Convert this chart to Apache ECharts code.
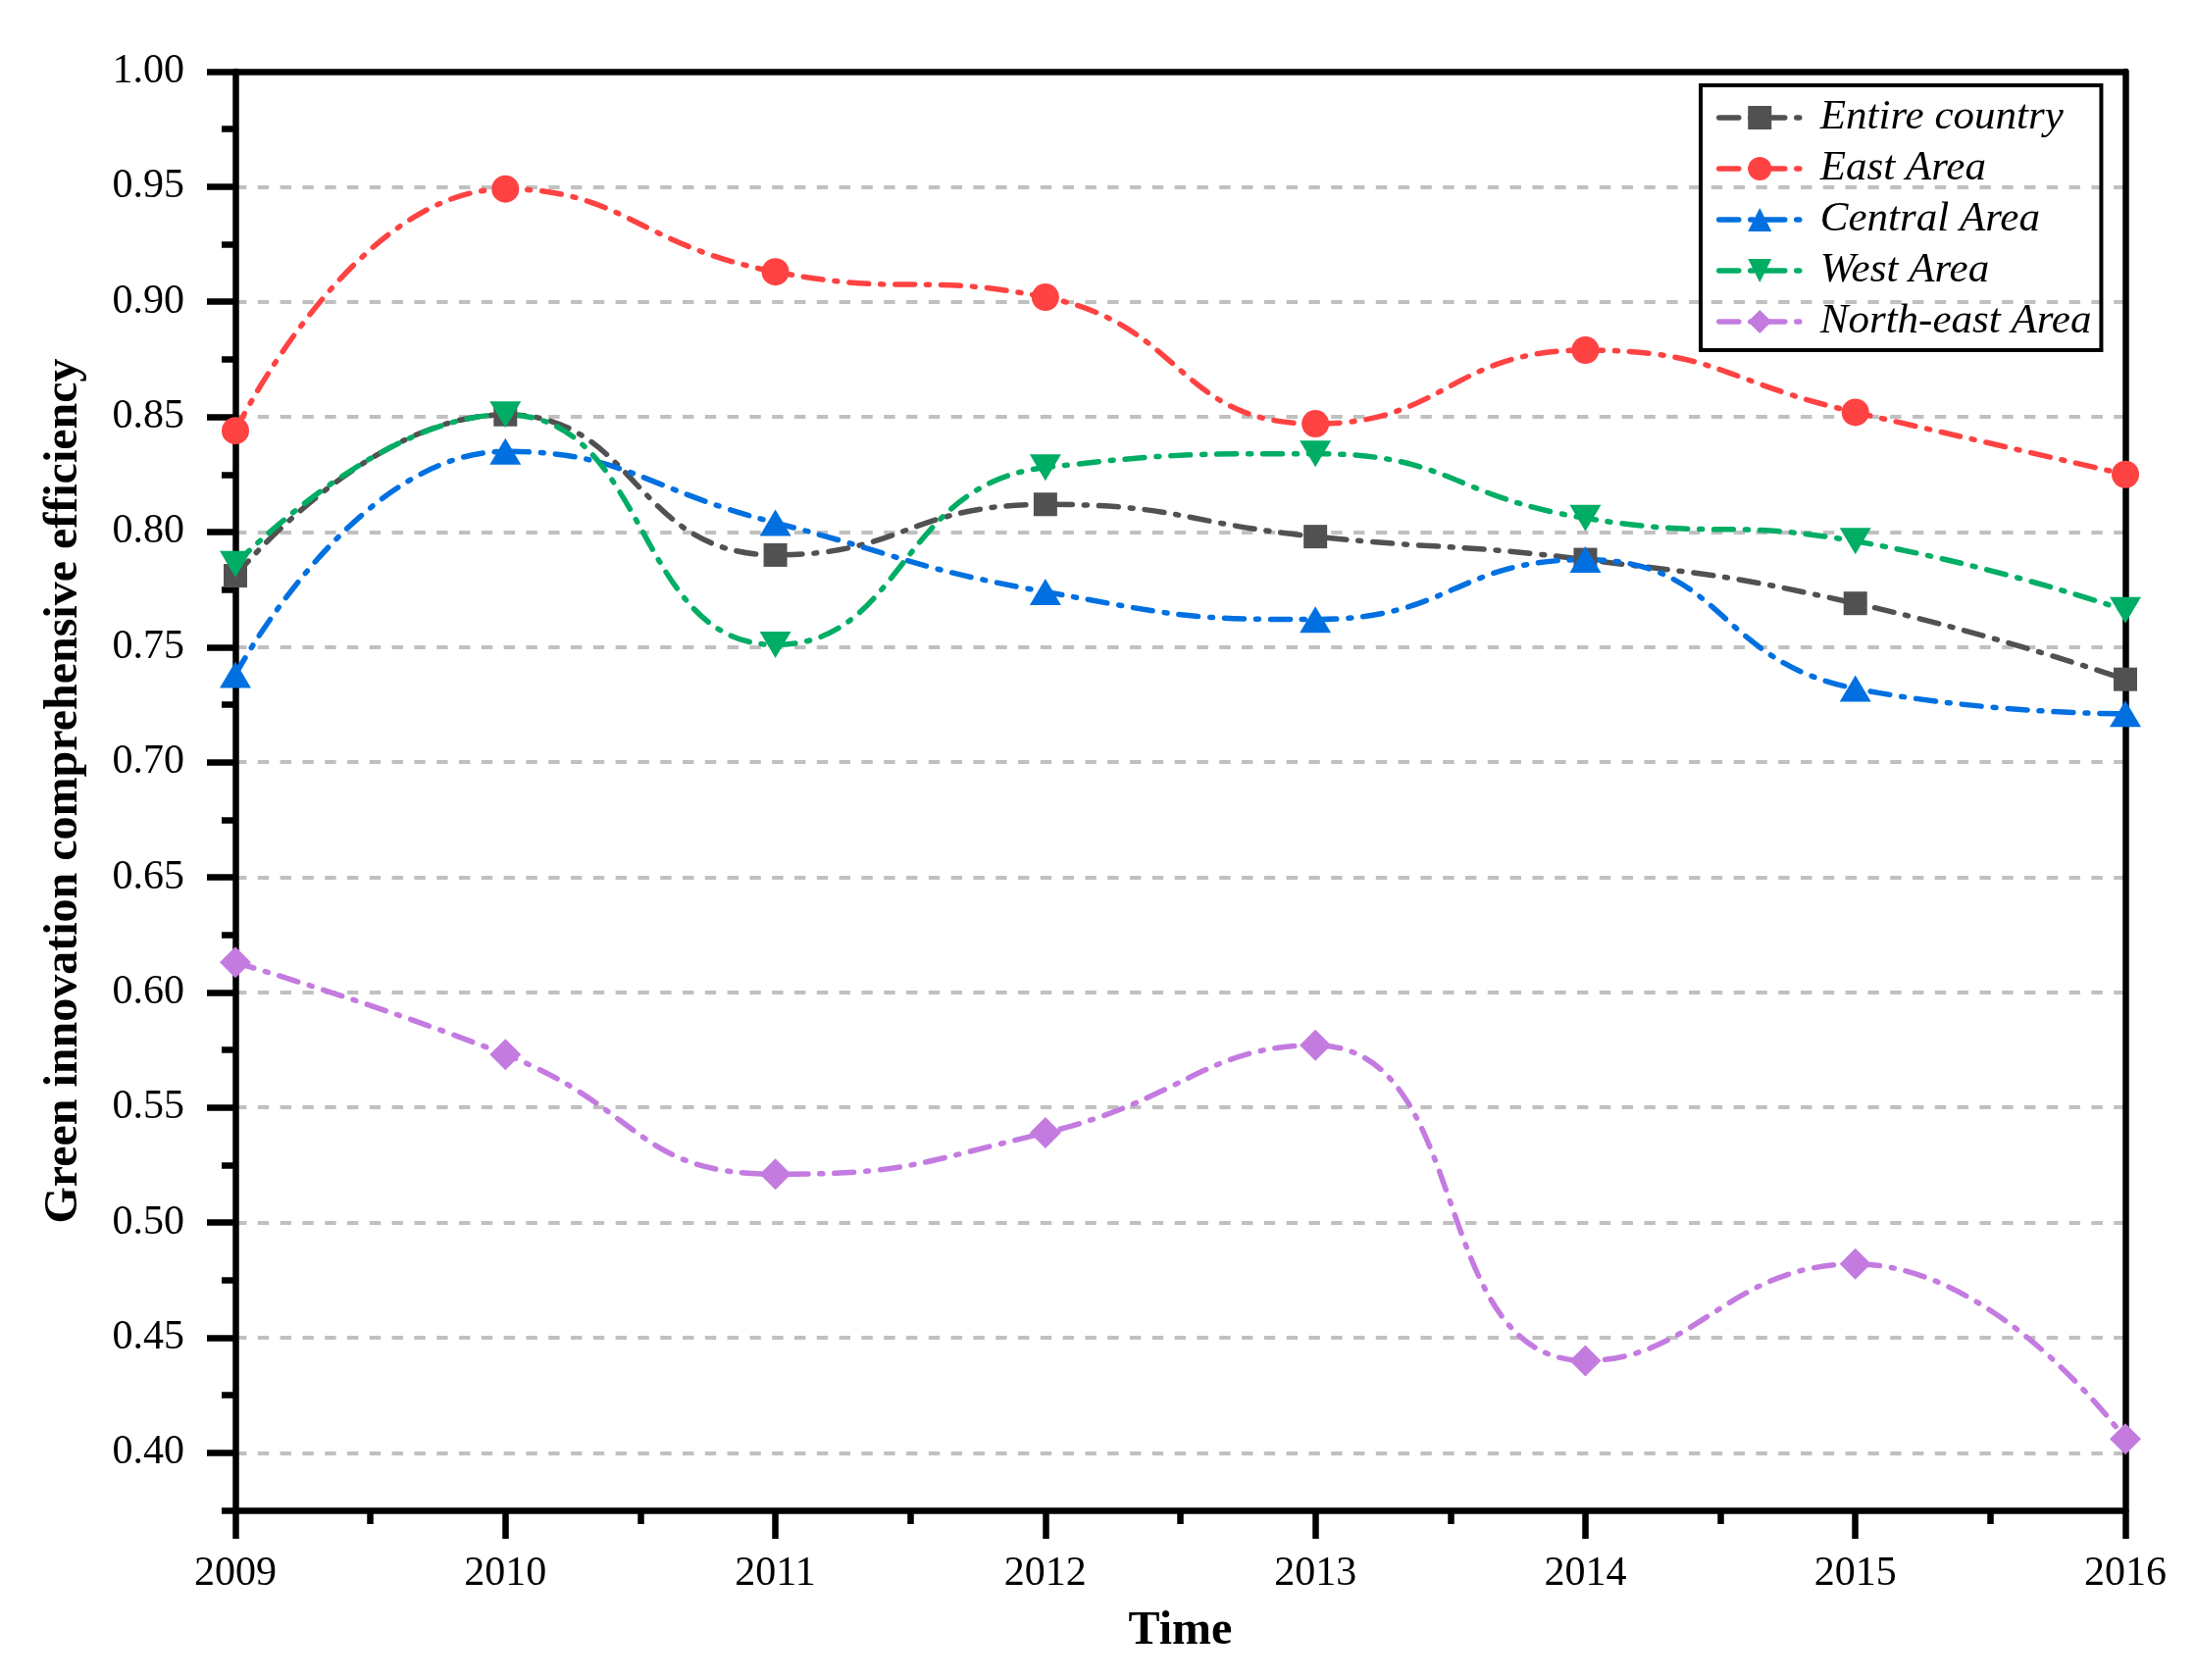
<!DOCTYPE html>
<html>
<head>
<meta charset="utf-8">
<script src="https://cdn.jsdelivr.net/npm/echarts@6/dist/echarts.min.js"></script>
<style>
html,body{margin:0;padding:0;background:#ffffff;}
#chart{width:2238px;height:1713px;}
</style>
</head>
<body>
<div id="chart"></div>
<script>
// ---- Data ----
const years = [2009, 2010, 2011, 2012, 2013, 2014, 2015, 2016];
const entireCountry = [0.781, 0.851, 0.790, 0.812, 0.798, 0.788, 0.769, 0.736];
const eastArea      = [0.844, 0.949, 0.913, 0.902, 0.847, 0.879, 0.852, 0.825];
const centralArea   = [0.738, 0.835, 0.804, 0.774, 0.762, 0.788, 0.732, 0.721];
const westArea      = [0.786, 0.851, 0.751, 0.828, 0.834, 0.806, 0.796, 0.766];
const northEastArea = [0.613, 0.573, 0.521, 0.539, 0.577, 0.440, 0.482, 0.406];
const seriesNames = ['Entire country', 'East Area', 'Central Area', 'West Area', 'North-east Area'];
const yMajorTicks = [0.40, 0.45, 0.50, 0.55, 0.60, 0.65, 0.70, 0.75, 0.80, 0.85, 0.90, 0.95, 1.00];
const yMinorTicks = [0.375, 0.425, 0.475, 0.525, 0.575, 0.625, 0.675, 0.725, 0.775, 0.825, 0.875, 0.925, 0.975];
const xAxisTitle = 'Time';
const yAxisTitle = 'Green innovation comprehensive efficiency';

// ---- Styles ----
const FONT = "'Liberation Serif', 'Times New Roman', serif";
const colors = ['#515151', '#FF4242', '#0070E0', '#00AD65', '#C47BE0'];
const symbols = ['rect', 'circle', 'triangle', 'triangle', 'diamond'];
const symbolSizes = [24, 28, [32, 27], [32, 27], [32, 32]];
const symbolRotates = [0, 0, 0, 180, 0];
const AXW = 6.5;
const seriesData = [entireCountry, eastArea, centralArea, westArea, northEastArea];

const chart = echarts.init(document.getElementById('chart'), null, {renderer: 'canvas'});

const series = seriesData.map((vals, i) => ({
  name: seriesNames[i],
  type: 'line',
  data: years.map((y, k) => [y, vals[k]]),
  xAxisIndex: 0,
  yAxisIndex: 0,
  smooth: 0.5,
  symbol: symbols[i],
  symbolSize: symbolSizes[i],
  symbolRotate: symbolRotates[i],
  showAllSymbol: true,
  clip: false,
  itemStyle: {color: colors[i]},
  lineStyle: {color: colors[i], width: 5.5, type: [20, 12, 3, 12], cap: 'round'},
  emphasis: {disabled: true},
  animation: false
}));

const option = {
  animation: false,
  backgroundColor: '#ffffff',
  grid: {left: 240, right: 71, top: 73, bottom: 173, containLabel: false},
  legend: {
    orient: 'vertical',
    left: 1734,
    top: 87,
    borderColor: '#000',
    borderWidth: 4,
    padding: [7, 10, 3, 16],
    itemWidth: 83,
    itemHeight: 30,
    itemGap: 0,
    data: seriesNames,
    lineStyle: {width: 5.5, type: [20, 12, 3, 12], cap: 'round'},
    textStyle: {fontFamily: FONT, fontStyle: 'italic', fontSize: 43, color: '#000', lineHeight: 52, padding: [0, 0, 0, 15]}
  },
  xAxis: [
    {
      type: 'value', min: 2009, max: 2016, interval: 1, position: 'bottom',
      axisLine: {show: true, onZero: false, lineStyle: {color: '#000', width: AXW}},
      axisTick: {show: true, inside: false, length: 29, lineStyle: {color: '#000', width: AXW}},
      minorTick: {show: true, splitNumber: 2, length: 14, lineStyle: {color: '#000', width: AXW}},
      axisLabel: {formatter: v => String(v), fontFamily: FONT, fontSize: 42, color: '#000', margin: 44},
      splitLine: {show: false},
      name: xAxisTitle, nameLocation: 'middle', nameGap: 100,
      nameTextStyle: {fontFamily: FONT, fontWeight: 'bold', fontSize: 48, color: '#000'}
    },
    {
      type: 'value', min: 2009, max: 2016, position: 'top',
      axisLine: {show: true, onZero: false, lineStyle: {color: '#000', width: AXW}},
      axisTick: {show: false}, axisLabel: {show: false}, splitLine: {show: false}
    }
  ],
  yAxis: [
    {
      type: 'value', min: 0.375, max: 1.0, position: 'left', splitNumber: 12,
      axisLine: {show: true, onZero: false, lineStyle: {color: '#000', width: AXW}},
      axisTick: {show: true, inside: false, length: 29, customValues: yMajorTicks, lineStyle: {color: '#000', width: AXW}},
      axisLabel: {customValues: yMajorTicks, formatter: v => Number(v).toFixed(2), fontFamily: FONT, fontSize: 42, color: '#000', margin: 52},
      splitLine: {show: true, lineStyle: {color: '#C0C0C0', width: 4, type: [11.4, 11.4]}},
      name: yAxisTitle, nameLocation: 'middle', nameRotate: 90, nameGap: 150,
      nameTextStyle: {fontFamily: FONT, fontWeight: 'bold', fontSize: 48, color: '#000'}
    },
    {
      type: 'value', min: 0.375, max: 1.0, position: 'left',
      axisLine: {show: false, onZero: false},
      axisTick: {show: true, inside: false, length: 14, customValues: yMinorTicks, lineStyle: {color: '#000', width: AXW}},
      axisLabel: {show: false, customValues: yMinorTicks},
      splitLine: {show: false}
    },
    {
      type: 'value', min: 0.375, max: 1.0, position: 'right',
      axisLine: {show: true, onZero: false, lineStyle: {color: '#000', width: AXW}},
      axisTick: {show: false}, axisLabel: {show: false}, splitLine: {show: false}
    }
  ],
  series: series
};

chart.setOption(option);
</script>
</body>
</html>
